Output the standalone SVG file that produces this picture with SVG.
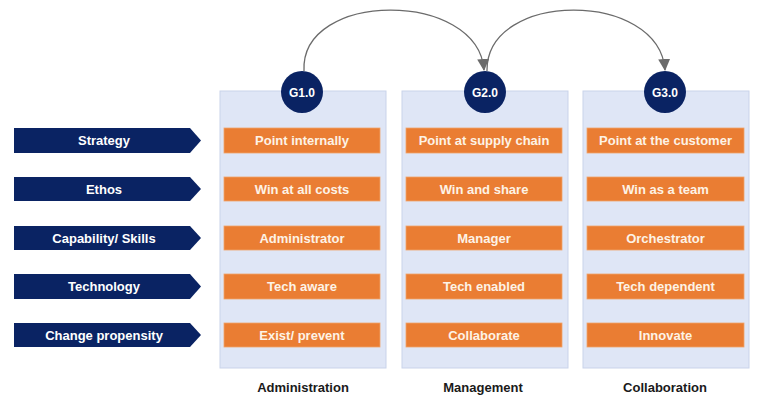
<svg xmlns="http://www.w3.org/2000/svg" width="765" height="408" viewBox="0 0 765 408">
<defs>
<marker id="ah" markerUnits="userSpaceOnUse" markerWidth="12" markerHeight="12" viewBox="0 0 12 12" refX="11" refY="6" orient="auto">
<path d="M0,0 L12,6 L0,12 Z" fill="#6b6b6b"/>
</marker>
<style>
.arrow{fill:#0a2363;}
.lbl{font-family:"Liberation Sans",Arial,sans-serif;font-weight:bold;font-size:13px;fill:#ffffff;text-anchor:middle;}
.panel{fill:#dfe6f6;stroke:#c9d3ea;stroke-width:1;}
.box{fill:#ea7d33;stroke:#f0a36a;stroke-width:0.8;}
.btxt{font-family:"Liberation Sans",Arial,sans-serif;font-weight:bold;font-size:13px;fill:#fdf3e6;text-anchor:middle;}
.circ{fill:#0a2363;}
.ctxt{font-family:"Liberation Sans",Arial,sans-serif;font-weight:bold;font-size:12px;fill:#ffffff;text-anchor:middle;}
.ftxt{font-family:"Liberation Sans",Arial,sans-serif;font-weight:bold;font-size:13px;fill:#1a1a1a;text-anchor:middle;}
.conn{fill:none;stroke:#6b6b6b;stroke-width:1.3;}
</style>
</defs>
<rect width="765" height="408" fill="#ffffff"/>

<g id="rows">
<g id="row-strategy"><path class="arrow" d="M14,128 H190 L201,140.5 L190,153 H14 Z"/><text class="lbl" x="104" y="145">Strategy</text></g>
<g id="row-ethos"><path class="arrow" d="M14,177 H190 L201,189 L190,201 H14 Z"/><text class="lbl" x="104" y="193.5">Ethos</text></g>
<g id="row-capability"><path class="arrow" d="M14,226 H190 L201,238 L190,250 H14 Z"/><text class="lbl" x="104" y="242.5">Capability/ Skills</text></g>
<g id="row-technology"><path class="arrow" d="M14,274 H190 L201,286.5 L190,299 H14 Z"/><text class="lbl" x="104" y="291">Technology</text></g>
<g id="row-change"><path class="arrow" d="M14,323 H190 L201,335 L190,347 H14 Z"/><text class="lbl" x="104" y="339.5">Change propensity</text></g>
</g>

<g id="col-g1">
<rect class="panel" x="220" y="91" width="166" height="277"/>
<rect class="box" x="224" y="128" width="156" height="25"/><text class="btxt" x="302" y="145">Point internally</text>
<rect class="box" x="224" y="177" width="156" height="24"/><text class="btxt" x="302" y="193.5">Win at all costs</text>
<rect class="box" x="224" y="226" width="156" height="24"/><text class="btxt" x="302" y="242.5">Administrator</text>
<rect class="box" x="224" y="274" width="156" height="25"/><text class="btxt" x="302" y="291">Tech aware</text>
<rect class="box" x="224" y="323" width="156" height="24"/><text class="btxt" x="302" y="339.5">Exist/ prevent</text>
<circle class="circ" cx="302" cy="92" r="21"/><text class="ctxt" x="302" y="96.5">G1.0</text>
<text class="ftxt" x="303" y="392">Administration</text>
</g>

<g id="col-g2">
<rect class="panel" x="402" y="91" width="166" height="277"/>
<rect class="box" x="406" y="128" width="156" height="25"/><text class="btxt" x="484" y="145">Point at supply chain</text>
<rect class="box" x="406" y="177" width="156" height="24"/><text class="btxt" x="484" y="193.5">Win and share</text>
<rect class="box" x="406" y="226" width="156" height="24"/><text class="btxt" x="484" y="242.5">Manager</text>
<rect class="box" x="406" y="274" width="156" height="25"/><text class="btxt" x="484" y="291">Tech enabled</text>
<rect class="box" x="406" y="323" width="156" height="24"/><text class="btxt" x="484" y="339.5">Collaborate</text>
<circle class="circ" cx="485" cy="92" r="21"/><text class="ctxt" x="485" y="96.5">G2.0</text>
<text class="ftxt" x="483" y="392">Management</text>
</g>

<g id="col-g3">
<rect class="panel" x="583" y="91" width="166" height="277"/>
<rect class="box" x="587" y="128" width="157" height="25"/><text class="btxt" x="665.5" y="145">Point at the customer</text>
<rect class="box" x="587" y="177" width="157" height="24"/><text class="btxt" x="665.5" y="193.5">Win as a team</text>
<rect class="box" x="587" y="226" width="157" height="24"/><text class="btxt" x="665.5" y="242.5">Orchestrator</text>
<rect class="box" x="587" y="274" width="157" height="25"/><text class="btxt" x="665.5" y="291">Tech dependent</text>
<rect class="box" x="587" y="323" width="157" height="24"/><text class="btxt" x="665.5" y="339.5">Innovate</text>
<circle class="circ" cx="665" cy="92" r="21"/><text class="ctxt" x="665" y="96.5">G3.0</text>
<text class="ftxt" x="665" y="392">Collaboration</text>
</g>

<g id="connectors">
<path class="conn" d="M304,71 C300,-10 478,-10 484,70" marker-end="url(#ah)"/>
<path class="conn" d="M487,71 C486,-10 659,-10 665,70" marker-end="url(#ah)"/>
</g>
</svg>
